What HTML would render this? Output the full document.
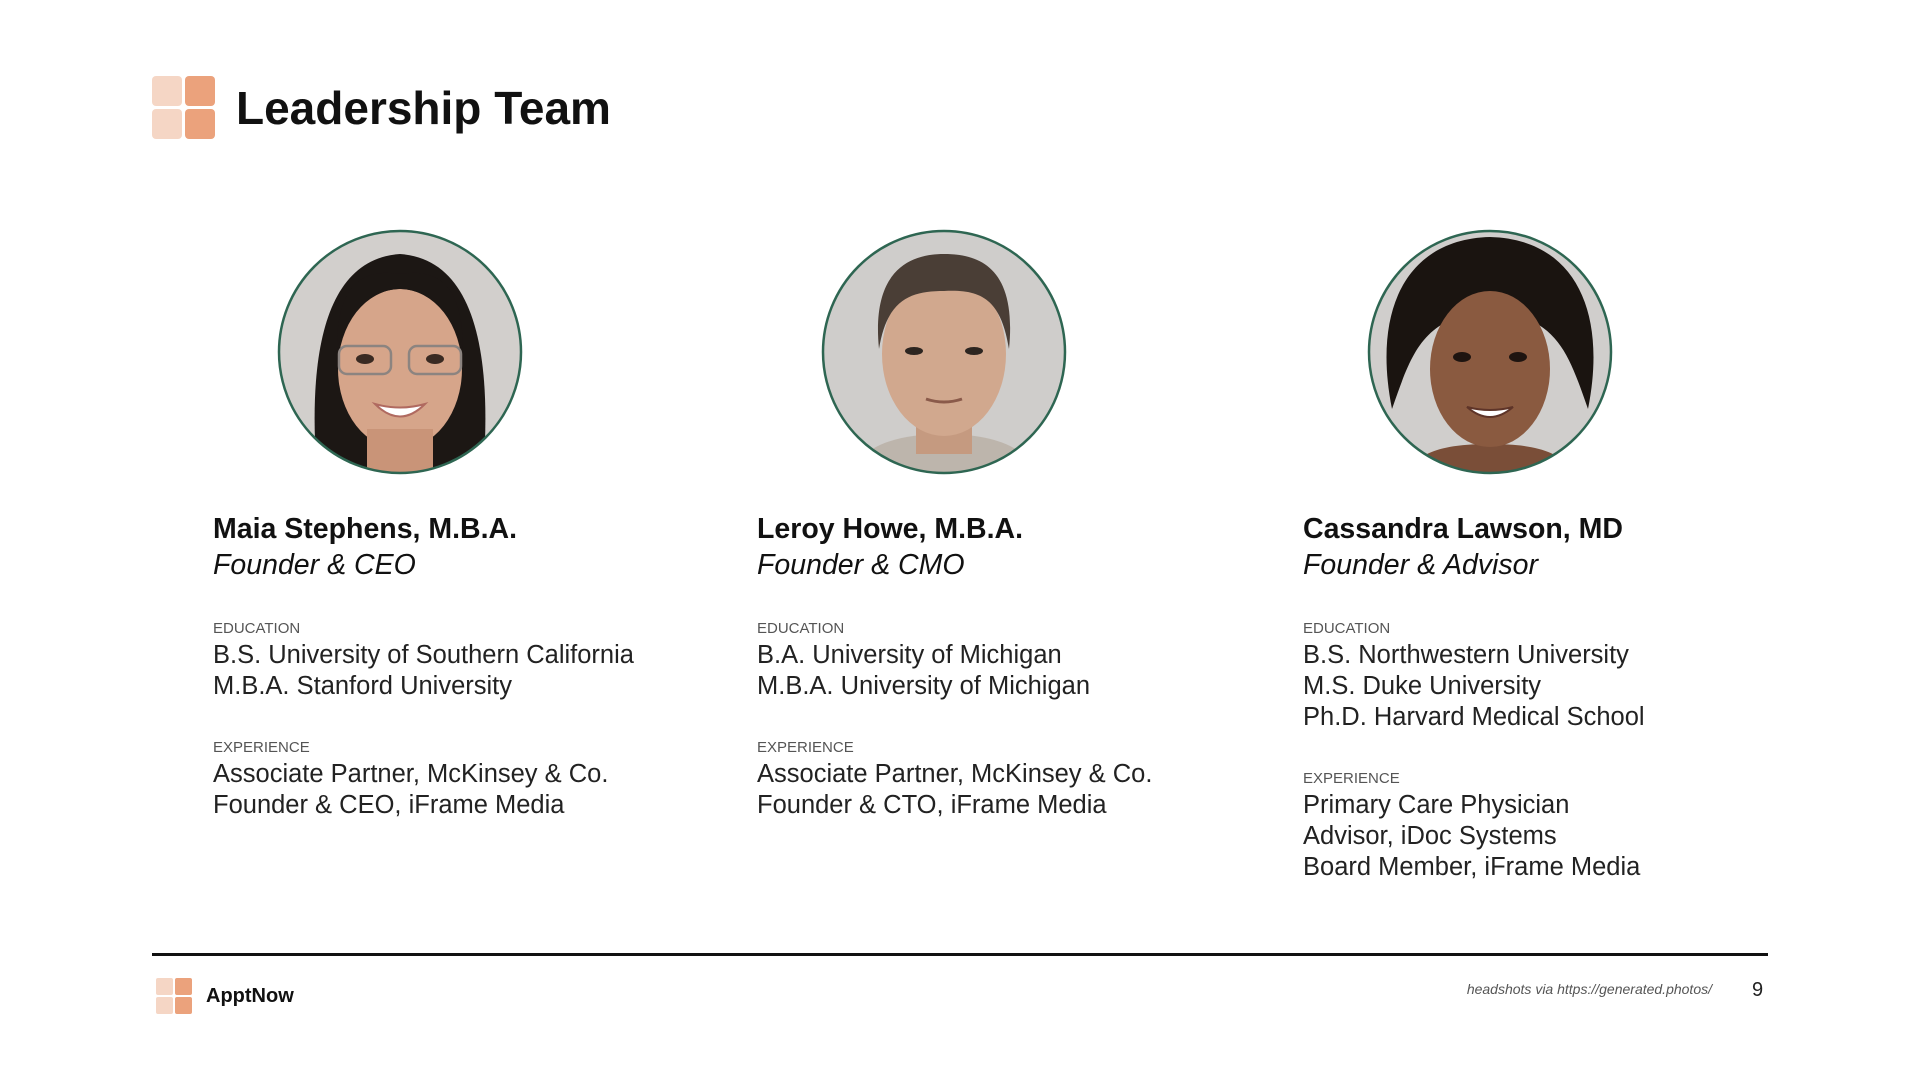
<!DOCTYPE html>
<html><head><meta charset="utf-8"><style>
body{margin:0;width:1920px;height:1080px;background:#fff;position:relative;overflow:hidden;font-family:"Liberation Sans",sans-serif;color:#111}
.a{position:absolute;white-space:nowrap}
.name{font-weight:bold;font-size:28.5px;line-height:36px}
.role{font-style:italic;font-size:28.5px;line-height:36px}
.lab{font-size:15px;color:#555;line-height:20px}
.ln{font-size:25.5px;line-height:31px;color:#222}
svg.face{position:absolute}
</style></head><body>
<svg class="a" style="left:152px;top:76px" width="64" height="64">
<rect x="0" y="0" width="30" height="30" rx="4" fill="#f5d6c5"/><rect x="33" y="0" width="30" height="30" rx="4" fill="#eba27c"/>
<rect x="0" y="33" width="30" height="30" rx="4" fill="#f5d6c5"/><rect x="33" y="33" width="30" height="30" rx="4" fill="#eba27c"/></svg>
<div class="a" style="left:236px;top:80px;font-size:46px;font-weight:bold;line-height:56px">Leadership Team</div>

<svg class="face" style="left:277px;top:229px" width="246" height="246">
<defs><clipPath id="c1"><circle cx="123" cy="123" r="121"/></clipPath></defs>
<g clip-path="url(#c1)"><rect width="246" height="246" fill="#d2cfcc"/>
<path d="M40 246 C30 120 50 30 123 25 C196 30 216 120 206 246Z" fill="#1c1714"/>
<ellipse cx="123" cy="140" rx="62" ry="80" fill="#d6a58a"/>
<rect x="90" y="200" width="66" height="50" fill="#c99478"/>
<path d="M60 120 C60 50 90 40 123 45 C156 40 186 50 186 120 C170 70 140 60 123 60 C106 60 76 70 60 120Z" fill="#1c1714"/>
<rect x="62" y="117" width="52" height="28" rx="8" fill="none" stroke="#8c8480" stroke-width="2.5"/>
<rect x="132" y="117" width="52" height="28" rx="8" fill="none" stroke="#8c8480" stroke-width="2.5"/>
<ellipse cx="88" cy="130" rx="9" ry="5" fill="#3a2a22"/><ellipse cx="158" cy="130" rx="9" ry="5" fill="#3a2a22"/>
<path d="M98 175 Q123 200 148 175 Q123 182 98 175Z" fill="#fff" stroke="#b06a60" stroke-width="2"/></g>
<circle cx="123" cy="123" r="121" fill="none" stroke="#2e6652" stroke-width="2.5"/></svg>

<svg class="face" style="left:821px;top:229px" width="246" height="246">
<defs><clipPath id="c2"><circle cx="123" cy="123" r="121"/></clipPath></defs>
<g clip-path="url(#c2)"><rect width="246" height="246" fill="#cfcdcb"/>
<path d="M30 246 C40 215 80 205 123 205 C166 205 206 215 216 246Z" fill="#bdb5ac"/>
<rect x="95" y="185" width="56" height="40" fill="#c59a80"/>
<ellipse cx="123" cy="125" rx="62" ry="82" fill="#d1a88e"/>
<path d="M58 120 C50 40 90 25 123 25 C160 25 196 40 188 120 C180 70 160 60 123 62 C90 62 66 70 58 120Z" fill="#4a3e36"/>
<ellipse cx="93" cy="122" rx="9" ry="4" fill="#2d2520"/><ellipse cx="153" cy="122" rx="9" ry="4" fill="#2d2520"/>
<path d="M105 170 Q123 176 141 170" stroke="#8a5a4a" stroke-width="3" fill="none"/></g>
<circle cx="123" cy="123" r="121" fill="none" stroke="#2e6652" stroke-width="2.5"/></svg>

<svg class="face" style="left:1367px;top:229px" width="246" height="246">
<defs><clipPath id="c3"><circle cx="123" cy="123" r="121"/></clipPath></defs>
<g clip-path="url(#c3)"><rect width="246" height="246" fill="#d0cecc"/>
<path d="M25 180 C5 80 40 10 123 8 C206 10 241 80 221 180 C200 120 190 90 123 80 C56 90 46 120 25 180Z" fill="#1a1410"/>
<path d="M40 246 C50 220 85 215 123 215 C161 215 196 220 206 246Z" fill="#7a4e38"/>
<ellipse cx="123" cy="140" rx="60" ry="78" fill="#8a5a40"/>
<ellipse cx="95" cy="128" rx="9" ry="5" fill="#1e1410"/><ellipse cx="151" cy="128" rx="9" ry="5" fill="#1e1410"/>
<path d="M100 178 Q123 198 146 178 Q123 184 100 178Z" fill="#fff" stroke="#5e3428" stroke-width="2"/></g>
<circle cx="123" cy="123" r="121" fill="none" stroke="#2e6652" stroke-width="2.5"/></svg>

<div class="a name" style="left:213px;top:511px">Maia Stephens, M.B.A.</div>
<div class="a role" style="left:213px;top:547px">Founder &amp; CEO</div>
<div class="a lab" style="left:213px;top:619px">EDUCATION</div>
<div class="a ln" style="left:213px;top:640px">B.S. University of Southern California<br>M.B.A. Stanford University</div>
<div class="a lab" style="left:213px;top:738px">EXPERIENCE</div>
<div class="a ln" style="left:213px;top:759px">Associate Partner, McKinsey &amp; Co.<br>Founder &amp; CEO, iFrame Media</div>

<div class="a name" style="left:757px;top:511px">Leroy Howe, M.B.A.</div>
<div class="a role" style="left:757px;top:547px">Founder &amp; CMO</div>
<div class="a lab" style="left:757px;top:619px">EDUCATION</div>
<div class="a ln" style="left:757px;top:640px">B.A. University of Michigan<br>M.B.A. University of Michigan</div>
<div class="a lab" style="left:757px;top:738px">EXPERIENCE</div>
<div class="a ln" style="left:757px;top:759px">Associate Partner, McKinsey &amp; Co.<br>Founder &amp; CTO, iFrame Media</div>

<div class="a name" style="left:1303px;top:511px">Cassandra Lawson, MD</div>
<div class="a role" style="left:1303px;top:547px">Founder &amp; Advisor</div>
<div class="a lab" style="left:1303px;top:619px">EDUCATION</div>
<div class="a ln" style="left:1303px;top:640px">B.S. Northwestern University<br>M.S. Duke University<br>Ph.D. Harvard Medical School</div>
<div class="a lab" style="left:1303px;top:769px">EXPERIENCE</div>
<div class="a ln" style="left:1303px;top:790px">Primary Care Physician<br>Advisor, iDoc Systems<br>Board Member, iFrame Media</div>

<div class="a" style="left:152px;top:953px;width:1616px;height:3px;background:#111"></div>
<svg class="a" style="left:156px;top:978px" width="37" height="37">
<rect x="0" y="0" width="17" height="17" rx="2" fill="#f5d6c5"/><rect x="19" y="0" width="17" height="17" rx="2" fill="#eba27c"/>
<rect x="0" y="19" width="17" height="17" rx="2" fill="#f5d6c5"/><rect x="19" y="19" width="17" height="17" rx="2" fill="#eba27c"/></svg>
<div class="a" style="left:206px;top:983px;font-size:20px;font-weight:bold;line-height:26px">ApptNow</div>
<div class="a" style="right:208px;top:980px;font-size:14px;font-style:italic;color:#555;line-height:18px">headshots via https://generated.photos/</div>
<div class="a" style="left:1752px;top:978px;font-size:20px;line-height:24px;color:#222">9</div>
</body></html>
